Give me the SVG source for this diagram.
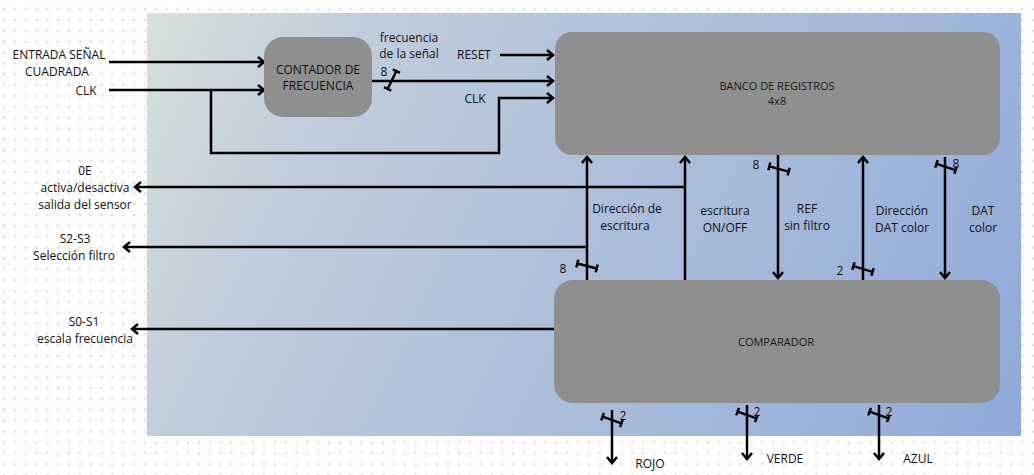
<svg xmlns="http://www.w3.org/2000/svg" width="1034" height="475" viewBox="0 0 1034 475">
<style>
.t{font-family:"Open Sans","Liberation Sans",sans-serif;font-size:12px;fill:#111;text-anchor:middle}
.n{font-family:"Open Sans","Liberation Sans",sans-serif;font-size:11px;fill:#1a1a1a;text-anchor:middle}
.c{fill:none;stroke:#000;stroke-width:2.5}
.a{marker-end:url(#ah)}
.node{fill:#8f8f8f}
</style>
<defs>
<pattern id="grid" x="4.04" y="9.3" width="10.83" height="10.83" patternUnits="userSpaceOnUse">
<path d="M0,-1.5V1.5M-1.5,0H1.5M10.83,-1.5V1.5M9.33,0H12.33M0,9.33V12.33M-1.5,10.83H1.5M10.83,9.33V12.33M9.33,10.83H12.33" stroke="#d6d6d6" stroke-width="1" fill="none"/>
</pattern>
<linearGradient id="bg" gradientUnits="userSpaceOnUse" x1="147" y1="13" x2="1021" y2="436">
<stop offset="0" stop-color="#d7e1dc"/>
<stop offset="0.2" stop-color="#c0cddb"/>
<stop offset="0.8" stop-color="#9db3da"/>
<stop offset="1" stop-color="#8eaad9"/>
</linearGradient>
<marker id="ah" markerUnits="userSpaceOnUse" viewBox="-9 -7 11 14" refX="0" refY="0" markerWidth="11" markerHeight="14" orient="auto" overflow="visible">
<path d="M-6,-5L0,0L-6,5" fill="none" stroke="#000" stroke-width="2.5"/>
</marker>
<g id="bus"><path d="M-10,0H10M-10,-4V4M10,-4V4" fill="none" stroke="#000" stroke-width="2.5"/></g>
</defs>
<rect width="1034" height="475" fill="#fff"/>
<rect width="1034" height="475" fill="url(#grid)"/>
<rect x="147" y="13" width="874" height="423" fill="url(#bg)"/>

<g id="connectors">
<path class="c a" d="M109,62H264"/>
<path class="c a" d="M109,90H264"/>
<path class="c a" d="M211,90V153H499V98H553"/>
<path class="c a" d="M500,55H553"/>
<path class="c a" d="M372,81H553"/>
<use href="#bus" transform="translate(392,80) rotate(-64)"/>
<path class="c a" d="M685,280V157"/>
<path class="c a" d="M685,187H135"/>
<path class="c a" d="M587,280V157"/>
<path class="c a" d="M587,247H124"/>
<use href="#bus" transform="translate(587,266) rotate(14)"/>
<path class="c a" d="M778,155V278"/>
<use href="#bus" transform="translate(779,169) rotate(15)"/>
<path class="c a" d="M863,280V157"/>
<use href="#bus" transform="translate(863,269) rotate(17)"/>
<path class="c a" d="M945,157V278"/>
<use href="#bus" transform="translate(946,167) rotate(18)"/>
<path class="c a" d="M554,329H132"/>
<path class="c a" d="M612,410V463"/>
<use href="#bus" transform="translate(612,420) rotate(20)"/>
<path class="c a" d="M747,405V459"/>
<use href="#bus" transform="translate(747,415) rotate(20)"/>
<path class="c a" d="M879,405V459"/>
<use href="#bus" transform="translate(879,415) rotate(20)"/>
</g>

<g id="contador">
<rect class="node" x="264" y="37" width="108" height="80" rx="19"/>
<text class="t" x="318" y="74">CONTADOR DE</text>
<text class="t" x="318" y="90">FRECUENCIA</text>
</g>
<g id="banco">
<rect class="node" x="555" y="32" width="445" height="123" rx="17"/>
<text class="n" x="777" y="90">BANCO DE REGISTROS</text>
<text class="n" x="777" y="105">4x8</text>
</g>
<g id="comparador">
<rect class="node" x="554" y="280" width="446" height="123" rx="19"/>
<text class="n" x="776" y="346">COMPARADOR</text>
</g>

<g id="labels">
<text class="t" x="59" y="59">ENTRADA SEÑAL</text>
<text class="t" x="57" y="76">CUADRADA</text>
<text class="t" x="86" y="95">CLK</text>
<text class="t" x="409" y="42">frecuencia</text>
<text class="t" x="409" y="58">de la señal</text>
<text class="t" x="384" y="76">8</text>
<text class="t" x="474" y="59">RESET</text>
<text class="t" x="475" y="103">CLK</text>
<text class="t" x="85" y="175">0E</text>
<text class="t" x="85" y="192">activa/desactiva</text>
<text class="t" x="85" y="209">salida del sensor</text>
<text class="t" x="75" y="243">S2-S3</text>
<text class="t" x="74" y="260">Selección filtro</text>
<text class="t" x="84" y="326">S0-S1</text>
<text class="t" x="85" y="343">escala frecuencia</text>
<text class="t" x="627" y="213">Dirección de</text>
<text class="t" x="625" y="230">escritura</text>
<text class="t" x="725" y="215">escritura</text>
<text class="t" x="725" y="232">ON/OFF</text>
<text class="t" x="807" y="213">REF</text>
<text class="t" x="807" y="230">sin filtro</text>
<text class="t" x="902" y="215">Dirección</text>
<text class="t" x="902" y="232">DAT color</text>
<text class="t" x="983" y="215">DAT</text>
<text class="t" x="983" y="232">color</text>
<text class="t" x="563" y="273">8</text>
<text class="t" x="756" y="169">8</text>
<text class="t" x="840" y="275">2</text>
<text class="t" x="956" y="168">8</text>
<text class="t" x="623" y="420">2</text>
<text class="t" x="757" y="416">2</text>
<text class="t" x="889" y="416">2</text>
<text class="t" x="650" y="468">ROJO</text>
<text class="t" x="785" y="463">VERDE</text>
<text class="t" x="918" y="463">AZUL</text>
</g>
</svg>
